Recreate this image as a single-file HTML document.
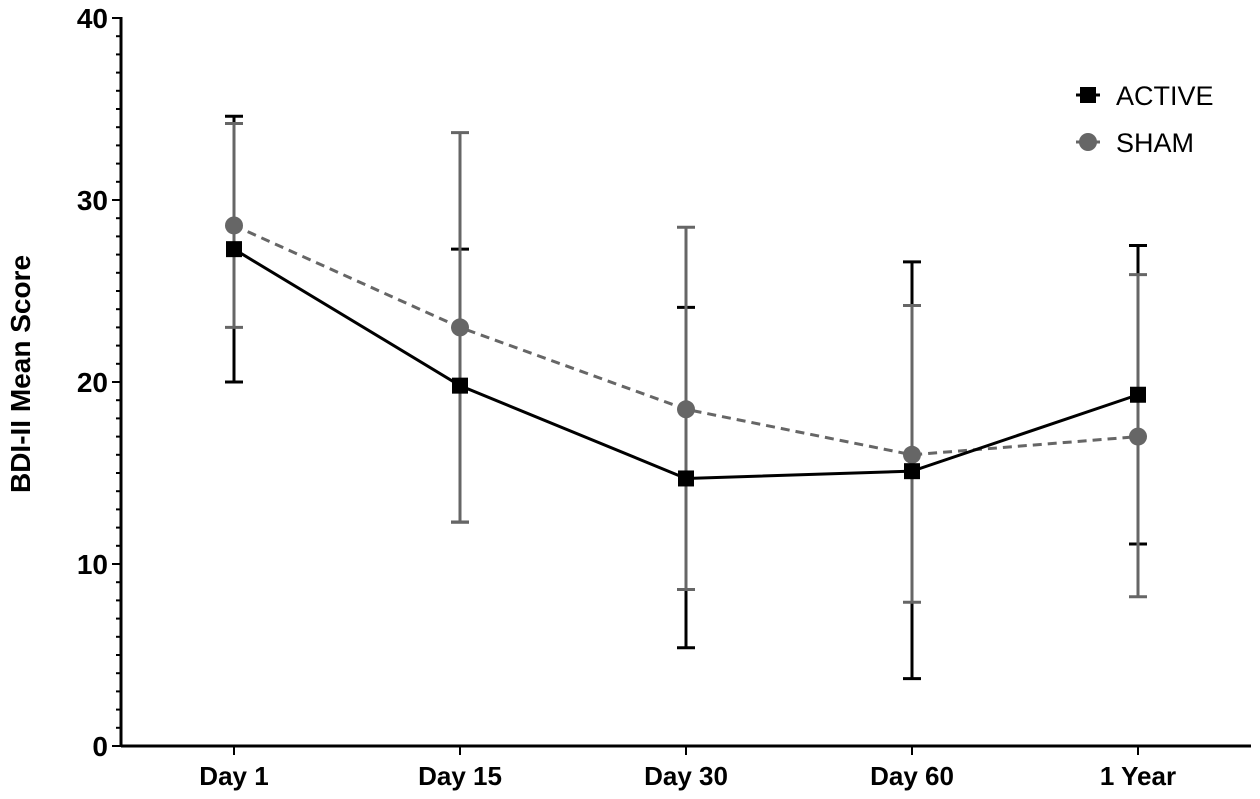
<!DOCTYPE html>
<html><head><meta charset="utf-8"><style>
html,body{margin:0;padding:0;background:#fff;}
svg{display:block;font-family:"Liberation Sans",Arial,sans-serif;}
</style></head><body>
<svg id="chart" width="1260" height="799" viewBox="0 0 1260 799"></svg>
<script>
const categories = ["Day 1","Day 15","Day 30","Day 60","1 Year"];
const activeMean = [27.3, 19.8, 14.7, 15.1, 19.3];
const activeLow  = [20.0, 12.3, 5.4, 3.7, 11.1];
const activeHigh = [34.6, 27.3, 24.1, 26.6, 27.5];
const shamMean = [28.6, 23.0, 18.5, 16.0, 17.0];
const shamLow  = [23.0, 12.3, 8.6, 7.9, 8.2];
const shamHigh = [34.2, 33.7, 28.5, 24.2, 25.9];
const yTicks = [0, 10, 20, 30, 40];

const NS = "http://www.w3.org/2000/svg";
const svg = document.getElementById("chart");
const X0 = 121, Y0 = 746, Ytop = 18;
function y(v){ return Y0 - (v/40)*(Y0-Ytop); }
function x(i){ return 234 + i*226; }
function el(tag, attrs, parent){
  const e = document.createElementNS(NS, tag);
  for (const k in attrs) e.setAttribute(k, attrs[k]);
  (parent||svg).appendChild(e); return e;
}
const ax = el("g", {});


el("line",{x1:X0,y1:Ytop-1,x2:X0,y2:Y0+1,stroke:"#000","stroke-width":3},ax);
el("line",{x1:X0,y1:Y0,x2:1251,y2:Y0,stroke:"#000","stroke-width":3},ax);
for (let v=0; v<=40; v++){
  const major = v%10===0;
  el("line",{x1:major?X0-9:X0-5,y1:y(v),x2:X0,y2:y(v),stroke:"#000","stroke-width":2},ax);
}
yTicks.forEach(v=>{
  const t = el("text",{x:108,y:y(v)+10,"text-anchor":"end","font-size":28,"font-weight":"bold"},ax);
  t.textContent = v;
  
  
});
categories.forEach((c,i)=>{
  el("line",{x1:x(i),y1:Y0,x2:x(i),y2:Y0+9,stroke:"#000","stroke-width":2},ax);
  const t = el("text",{x:x(i),y:785,"text-anchor":"middle","font-size":26,"font-weight":"bold"},ax);
  t.textContent = c;
  
  
});
const yt = el("text",{x:0,y:0,transform:"translate(30,374) rotate(-90)","text-anchor":"middle","font-size":28,"font-weight":"bold"});
yt.textContent = "BDI-II Mean Score";



function errorBars(low, high, color, name){
  const g = el("g",{});
  
  
  low.forEach((l,i)=>{
    el("line",{x1:x(i),y1:y(l),x2:x(i),y2:y(high[i]),stroke:color,"stroke-width":3},g);
    el("line",{x1:x(i)-9,y1:y(l),x2:x(i)+9,y2:y(l),stroke:color,"stroke-width":3},g);
    el("line",{x1:x(i)-9,y1:y(high[i]),x2:x(i)+9,y2:y(high[i]),stroke:color,"stroke-width":3},g);
  });
}
errorBars(activeLow, activeHigh, "#000", "active-error-bars");
errorBars(shamLow, shamHigh, "#666", "sham-error-bars");

const sl = el("polyline",{points:shamMean.map((v,i)=>x(i)+","+y(v)).join(" "),fill:"none",stroke:"#666","stroke-width":3,"stroke-dasharray":"9,6"});


const al = el("polyline",{points:activeMean.map((v,i)=>x(i)+","+y(v)).join(" "),fill:"none",stroke:"#000","stroke-width":3});


shamMean.forEach((v,i)=>{
  const c = el("circle",{cx:x(i),cy:y(v),r:9,fill:"#666"});
  
  
});
activeMean.forEach((v,i)=>{
  const r = el("rect",{x:x(i)-8,y:y(v)-8,width:16,height:16,fill:"#000"});
  
  
});
const lg = el("g",{});


const la = el("g",{},lg);


el("line",{x1:1076,y1:95,x2:1100,y2:95,stroke:"#000","stroke-width":3},la);
el("rect",{x:1080,y:87,width:16,height:16,fill:"#000"},la);
const t1 = el("text",{x:1116,y:105,"font-size":27},la); t1.textContent="ACTIVE";
const ls = el("g",{},lg);


el("line",{x1:1076,y1:142,x2:1100,y2:142,stroke:"#666","stroke-width":3},ls);
el("circle",{cx:1088,cy:142,r:9,fill:"#666"},ls);
const t2 = el("text",{x:1116,y:152,"font-size":27},ls); t2.textContent="SHAM";
</script>
</body></html>
